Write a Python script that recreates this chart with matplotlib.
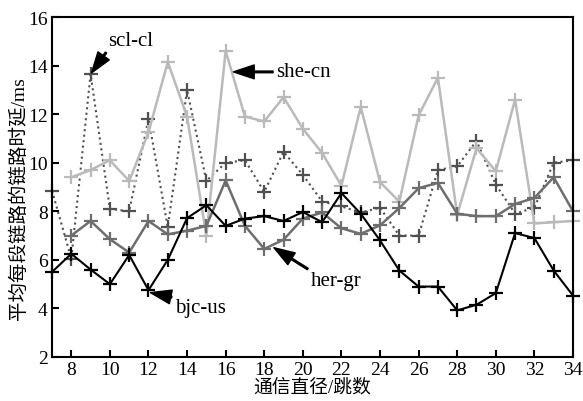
import matplotlib
matplotlib.use("Agg")
from matplotlib import pyplot as plt

hops = list(range(7, 35))
hops8 = list(range(8, 35))

# delay per link (ms)
scl_cl = [8.85, 6.05, 13.65, 8.1, 8.0, 11.8, 7.35, 13.0, 9.25, 10.0, 10.1, 8.8, 10.45,
          9.5, 8.4, 8.2, 7.95, 8.15, 7.0, 7.0, 9.7, 9.85, 10.9, 9.1, 7.9, 8.15, 10.0, 10.1]
she_cn = [9.4, 9.7, 10.1, 9.25, 11.25, 14.15, 11.9, 7.0, 14.6, 11.9, 11.7, 12.7, 11.4,
          10.4, 9.05, 12.3, 9.2, 8.4, 11.95, 13.5, 7.85, 10.6, 9.65, 12.6, 7.5, 7.55, 7.6]
her_gr = [7.0, 7.6, 6.85, 6.3, 7.6, 7.05, 7.2, 7.4, 9.27, 7.4, 6.45, 6.83, 7.7,
          7.95, 7.3, 7.07, 7.42, 8.13, 8.95, 9.17, 7.9, 7.8, 7.8, 8.3, 8.55, 9.4, 8.0]
bjc_us = [5.5, 6.25, 5.6, 5.0, 6.2, 4.75, 6.0, 7.72, 8.25, 7.4, 7.7, 7.8, 7.6, 7.97,
          7.55, 8.75, 7.9, 6.8, 5.56, 4.9, 4.9, 3.92, 4.15, 4.63, 7.1, 6.9, 5.56, 4.53]

plt.rcParams['font.family'] = ['Liberation Serif', 'Noto Sans CJK SC']
plt.rcParams['font.size'] = 14

fig = plt.figure(figsize=(5.83, 4.02), dpi=100)
ax = fig.add_axes([0.0892, 0.1095, 0.8936, 0.8457])

ax.plot(hops, scl_cl, linestyle=':', color='#505050', lw=1.5, marker='+',
        markersize=10, markeredgewidth=1.6, clip_on=False)
ax.plot(hops8, she_cn, color='#bababa', lw=1.8, marker='+',
        markersize=10, markeredgewidth=1.6, clip_on=False)
ax.plot(hops8, her_gr, color='#6e6e6e', lw=1.8, marker='+',
        markersize=10, markeredgewidth=1.6, clip_on=False)
ax.plot(hops, bjc_us, color='black', lw=1.5, marker='+',
        markersize=10, markeredgewidth=1.6, clip_on=False)

arrow = dict(facecolor='black', edgecolor='black', width=1.2, headwidth=10,
             headlength=15, shrink=0)
ax.annotate('scl-cl', xy=(9.05, 13.7), xytext=(9.9, 14.65), arrowprops=arrow,
            ha='left', va='bottom', fontsize=15)
ax.annotate('she-cn', xy=(16.4, 13.74), xytext=(18.6, 13.74), arrowprops=arrow,
            ha='left', va='center', fontsize=15)
ax.annotate('her-gr', xy=(18.5, 6.5), xytext=(20.4, 5.55), arrowprops=arrow,
            ha='left', va='top', fontsize=15)
ax.annotate('bjc-us', xy=(12.1, 4.65), xytext=(13.35, 4.05), arrowprops=arrow,
            ha='left', va='center', fontsize=15)

ax.set_xlim(7, 34)
ax.set_ylim(2, 16)
ax.set_xticks(range(8, 35, 2))
ax.set_yticks(range(2, 17, 2))
ax.tick_params(direction='in', length=5, width=1.5, labelsize=14, pad=3)
for s in ax.spines.values():
    s.set_linewidth(1.5)
ax.set_xlabel('通信直径/跳数', fontsize=13.5, labelpad=0)
ax.set_ylabel('平均每段链路的链路时延/ms', fontsize=14)
ax.yaxis.set_label_coords(-0.047, 0.47)

fig.savefig('out.png', dpi=100)
